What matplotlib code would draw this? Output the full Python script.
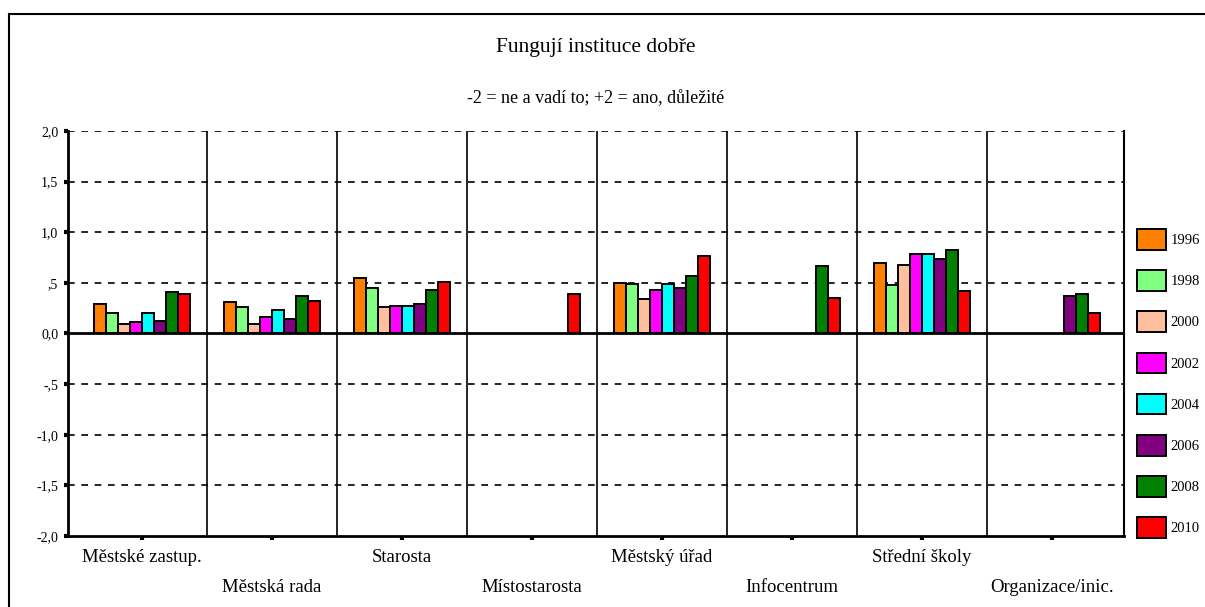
import numpy as np
import matplotlib.pyplot as plt
from matplotlib.patches import Rectangle

plt.rcParams['font.family'] = ['Liberation Serif', 'DejaVu Serif']

# instituce (kategorie na ose x)
instituce = ['Městské zastup.', 'Městská rada', 'Starosta', 'Místostarosta',
             'Městský úřad', 'Infocentrum', 'Střední školy', 'Organizace/inic.']
roky = ['1996', '1998', '2000', '2002', '2004', '2006', '2008', '2010']
barvy = ['#ff8000', '#80ff80', '#ffbf9f', '#ff00ff', '#00ffff', '#800080', '#008000', '#ff0000']

nan = np.nan
# prumerne hodnoty po letech (nan = neptali se)
r1996 = [0.29, 0.31, 0.55, nan, 0.50, nan, 0.70, nan]
r1998 = [0.20, 0.26, 0.45, nan, 0.49, nan, 0.48, nan]
r2000 = [0.09, 0.09, 0.26, nan, 0.34, nan, 0.68, nan]
r2002 = [0.11, 0.16, 0.27, nan, 0.43, nan, 0.79, nan]
r2004 = [0.20, 0.23, 0.27, nan, 0.49, nan, 0.79, nan]
r2006 = [0.12, 0.14, 0.29, nan, 0.45, nan, 0.74, 0.37]
r2008 = [0.41, 0.37, 0.43, nan, 0.57, 0.67, 0.82, 0.39]
r2010 = [0.39, 0.32, 0.51, 0.39, 0.77, 0.35, 0.42, 0.20]
hodnoty = [r1996, r1998, r2000, r2002, r2004, r2006, r2008, r2010]

yticks = [-2, -1.5, -1, -0.5, 0, 0.5, 1, 1.5, 2]
ylabels = ['-2,0', '-1,5', '-1,0', '-,5', '0,0', ',5', '1,0', '1,5', '2,0']

fig = plt.figure(figsize=(12.05, 6.07), dpi=100)
ax = fig.add_axes([0.0564, 0.117, 0.8764, 0.6672])

x = np.arange(len(instituce))
w = 0.092
handles = []
for i, (rok, vals) in enumerate(zip(roky, hodnoty)):
    pos = x + (i - 3.5) * w
    b = ax.bar(pos, vals, width=w, color=barvy[i], edgecolor='black',
               linewidth=1.4, label=rok, zorder=3)
    handles.append(b)

ax.set_xlim(-0.569, 7.554)
ax.set_ylim(-2, 2)

# mrizka
for yv in [-1.5, -1, -0.5, 0.5, 1, 1.5, 2]:
    ax.axhline(yv, color='black', lw=1.2, ls=(0, (4, 4)), zorder=1)
ax.axhline(0, color='black', lw=2, zorder=4)
for k in range(len(instituce) - 1):
    ax.axvline(k + 0.5, color='black', lw=1.2, zorder=2)

ax.set_yticks(yticks)
ax.set_yticklabels(ylabels, fontsize=10)
ax.set_xticks(x)
ax.set_xticklabels([])
ax.tick_params(axis='both', direction='out', length=3, width=3, color='black')
ax.tick_params(axis='y', pad=4)

for k, name in enumerate(instituce):
    dy = -0.052 if k % 2 == 0 else -0.128
    ax.text(k, dy, name, transform=ax.get_xaxis_transform(), ha='center',
            va='center', fontsize=13.5)

ax.spines['top'].set_visible(False)
ax.spines['left'].set_linewidth(2)
ax.spines['bottom'].set_linewidth(2)
ax.spines['right'].set_linewidth(1.5)

fig.text(0.4946, 0.922, 'Fungují instituce dobře', ha='center', va='center', fontsize=15.5)
fig.text(0.4946, 0.838, '-2 = ne a vadí to; +2 = ano, důležité', ha='center', va='center', fontsize=13)

ax.legend(handles=handles, labels=roky, loc='upper left',
          bbox_to_anchor=(1137 / 1205, 1 - 229 / 607), bbox_transform=fig.transFigure,
          frameon=False, fontsize=10.5, handlelength=2.0, handleheight=1.8,
          labelspacing=1.41, handletextpad=0.3, borderaxespad=0, borderpad=0)

fig.patches.append(Rectangle((9 / 1205, -0.1), 1.2, 1 - 14 / 607 + 0.1,
                             transform=fig.transFigure, fill=False,
                             edgecolor='black', lw=1.5))

fig.savefig('out.png', dpi=100)
